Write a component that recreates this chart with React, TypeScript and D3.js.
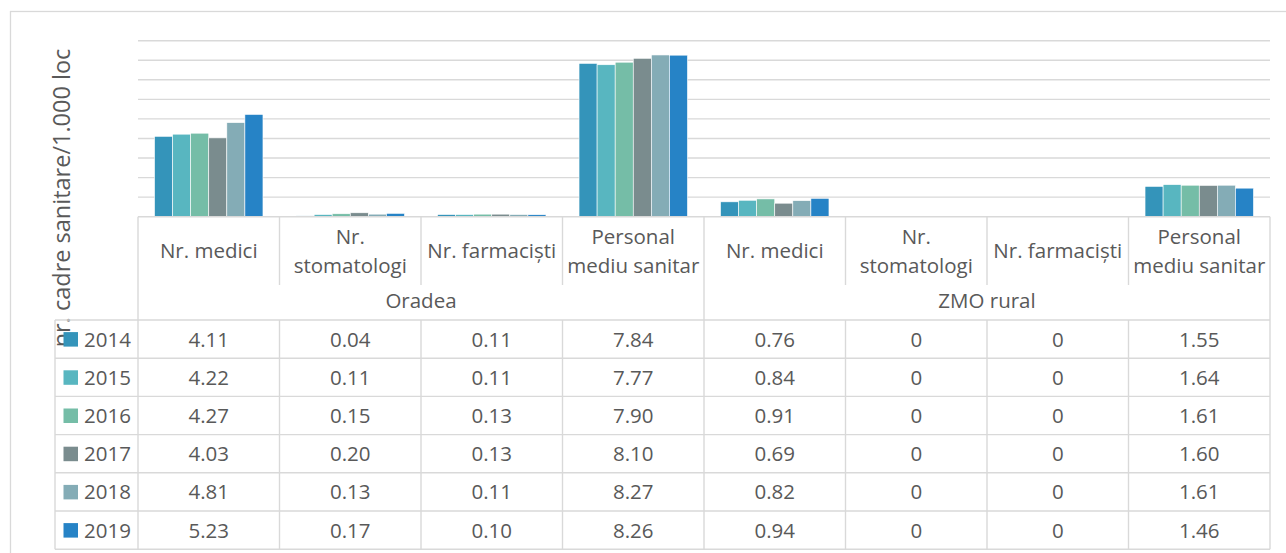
import React from "react";
import * as d3 from "d3";

const groups = ["Oradea", "ZMO rural"];
const categories = ["Nr. medici", "Nr. stomatologi", "Nr. farmaciști", "Personal mediu sanitar"];
const categoryLines = [["Nr. medici"], ["Nr.", "stomatologi"], ["Nr. farmaciști"], ["Personal", "mediu sanitar"]];
const years = ["2014", "2015", "2016", "2017", "2018", "2019"];
const colors = ["#3494BA", "#58B6C0", "#75BDA7", "#7A8C8E", "#84ACB6", "#2683C6"];

const v2014 = [4.11, 0.04, 0.11, 7.84, 0.76, 0, 0, 1.55];
const v2015 = [4.22, 0.11, 0.11, 7.77, 0.84, 0, 0, 1.64];
const v2016 = [4.27, 0.15, 0.13, 7.9, 0.91, 0, 0, 1.61];
const v2017 = [4.03, 0.2, 0.13, 8.1, 0.69, 0, 0, 1.6];
const v2018 = [4.81, 0.13, 0.11, 8.27, 0.82, 0, 0, 1.61];
const v2019 = [5.23, 0.17, 0.1, 8.26, 0.94, 0, 0, 1.46];
const series = [v2014, v2015, v2016, v2017, v2018, v2019];

const yTicks = [0, 1, 2, 3, 4, 5, 6, 7, 8, 9];
const axisTitle = "nr. cadre sanitare/1.000 loc";

const FONT = "'Open Sans', 'Noto Sans', sans-serif";
const TXT = "#595959";
const GRID = "#d9d9d9";

export default function App() {
  const W = 1286, H = 553;
  const left = 138, right = 1270;
  const baseY = 216.7, topY = 40.7;
  const headerSplit = 285;
  const rowsTop = 320;
  const rowH = 38.2;
  const legendLeft = 55;

  const cols = d3.range(groups.length * categories.length);
  const x = d3.scaleBand<number>().domain(cols).range([left, right]).padding(0);
  const xi = d3.scaleBand<string>().domain(years).range([0, x.bandwidth()]).paddingInner(0).paddingOuter(0.915);
  const y = d3.scaleLinear().domain([0, 9]).range([baseY, topY]);
  const fmt = (v: number) => (v === 0 ? "0" : d3.format(".2f")(v));
  const fs = 20.5;

  const rowsBottom = rowsTop + rowH * years.length;

  return (
    <svg width={W} height={H} style={{ position: "absolute", left: 0, top: 0, background: "#fff" }} fontFamily={FONT}>
      <rect x={0} y={0} width={W} height={H} fill="#fff" />
      {/* outer chart border */}
      <rect x={10.5} y={11.5} width={W} height={H} fill="none" stroke={GRID} strokeWidth={1.3} />

      {/* gridlines */}
      {yTicks.filter((t) => t > 0).map((t) => (
        <line key={t} x1={left} x2={right} y1={y(t)} y2={y(t)} stroke={GRID} strokeWidth={1.4} />
      ))}

      {/* bars */}
      {series.map((vals, si) => (
        <g key={years[si]}>
          {vals.map((v, ci) => (
            <rect
              key={ci}
              x={(x(ci) as number) + (xi(years[si]) as number)}
              y={y(v)}
              width={xi.bandwidth()}
              height={baseY - y(v)}
              fill={colors[si]}
              stroke="#fff"
              strokeWidth={0.6}
            />
          ))}
        </g>
      ))}

      {/* axis title */}
      <text
        transform={`translate(70,198) rotate(-90)`}
        textAnchor="middle"
        fontSize={23.5}
        fill={TXT}
      >
        {axisTitle}
      </text>

      {/* table lines */}
      <g stroke={GRID} strokeWidth={1.4}>
        <line x1={left} x2={right} y1={baseY} y2={baseY} />
        {years.map((_, i) => (
          <line key={i} x1={legendLeft} x2={right} y1={rowsTop + rowH * i} y2={rowsTop + rowH * i} />
        ))}
        <line x1={legendLeft} x2={right} y1={rowsBottom} y2={rowsBottom} />
        <line x1={legendLeft} x2={legendLeft} y1={rowsTop} y2={rowsBottom} />
        <line x1={left} x2={left} y1={baseY} y2={rowsBottom} />
        <line x1={right} x2={right} y1={baseY} y2={rowsBottom} />
        {cols.slice(1).map((c) => {
          const xx = x(c) as number;
          const isGroup = c % categories.length === 0;
          return (
            <g key={c}>
              <line x1={xx} x2={xx} y1={baseY} y2={isGroup ? rowsTop : headerSplit} />
              <line x1={xx} x2={xx} y1={rowsTop} y2={rowsBottom} />
            </g>
          );
        })}
      </g>

      {/* category labels */}
      {cols.map((c) => {
        const lines = categoryLines[c % categories.length];
        const cx = (x(c) as number) + x.bandwidth() / 2;
        const baselines = lines.length === 1 ? [257.5] : [244, 272.5];
        return (
          <text key={c} textAnchor="middle" fontSize={fs} fill={TXT}>
            {lines.map((ln, li) => (
              <tspan key={li} x={cx} y={baselines[li]}>
                {ln}
              </tspan>
            ))}
          </text>
        );
      })}

      {/* group labels */}
      {groups.map((g, gi) => {
        const x0 = x(gi * categories.length) as number;
        const x1 = (x((gi + 1) * categories.length - 1) as number) + x.bandwidth();
        return (
          <text key={g} x={(x0 + x1) / 2} y={307.5} textAnchor="middle" fontSize={fs} fill={TXT}>
            {g}
          </text>
        );
      })}

      {/* data rows */}
      {years.map((yr, si) => {
        const cy = rowsTop + rowH * (si + 0.5);
        return (
          <g key={yr}>
            <rect x={63.5} y={cy - 7} width={14.5} height={14.5} fill={colors[si]} />
            <text x={84} y={cy + 7.4} fontSize={fs} fill={TXT}>
              {yr}
            </text>
            {series[si].map((v, ci) => (
              <text
                key={ci}
                x={(x(ci) as number) + x.bandwidth() / 2}
                y={cy + 7.4}
                textAnchor="middle"
                fontSize={fs}
                fill={TXT}
              >
                {fmt(v)}
              </text>
            ))}
          </g>
        );
      })}
    </svg>
  );
}
